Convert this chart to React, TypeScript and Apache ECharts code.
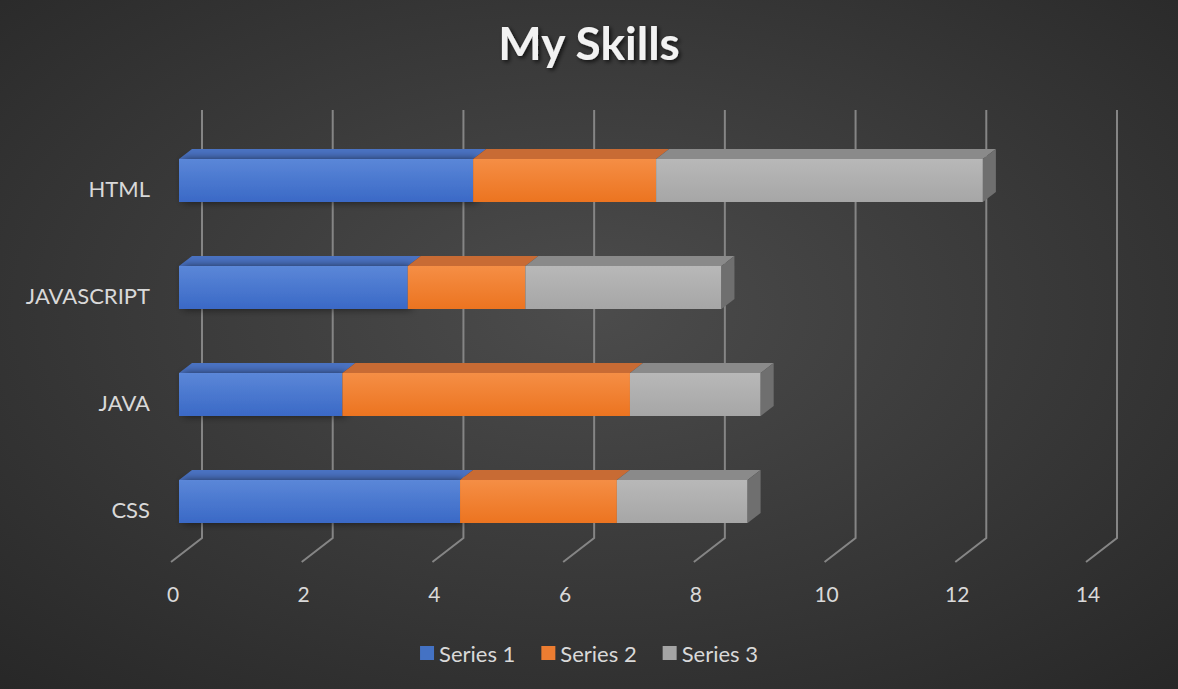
import React, { useEffect, useRef } from "react";
import * as echarts from "echarts";

const categories = ["CSS", "JAVA", "JAVASCRIPT", "HTML"];
const series1 = [4.3, 2.5, 3.5, 4.5];
const series2 = [2.4, 4.4, 1.8, 2.8];
const series3 = [2.0, 2.0, 3.0, 5.0];
const seriesNames = ["Series 1", "Series 2", "Series 3"];
const xTicks = [0, 2, 4, 6, 8, 10, 12, 14];

const FONT = "Lato, 'Open Sans', sans-serif";

const palette = [
  { front0: "#5b87d8", front1: "#3a69c6", top: "#4a72c2", side: "#33559a", legend: "#4472c4" },
  { front0: "#f58e45", front1: "#ec7420", top: "#c86b34", side: "#b55a1a", legend: "#ed7d31" },
  { front0: "#b8b8b8", front1: "#a6a6a6", top: "#8a8a8a", side: "#6f6f6f", legend: "#a5a5a5" },
];

export default function App() {
  const ref = useRef<HTMLDivElement>(null);
  useEffect(() => {
    document.body.style.margin = "0";
    const chart = echarts.init(ref.current!, null, { renderer: "svg" });
    const all = [series1, series2, series3];
    const DX = 13;
    const DY = -10;
    const OFF = 6;
    const BAR_H = 43;

    const barSeries = all.map((vals, si) => {
      const data = vals.map((v, ci) => {
        let start = 0;
        for (let k = 0; k < si; k++) start += all[k][ci];
        return [start, start + v, ci];
      });
      const col = palette[si];
      return {
        type: "custom",
        name: seriesNames[si],
        z: 3,
        itemStyle: { color: col.legend },
        encode: { x: [0, 1], y: 2 },
        data,
        renderItem: (params: any, api: any) => {
          const s = api.value(0);
          const e = api.value(1);
          const c = api.value(2);
          const p0 = api.coord([s, c]);
          const p1 = api.coord([e, c]);
          const yc = p0[1] - 8;
          const x0 = p0[0] + OFF;
          const x1 = p1[0] + OFF;
          const y0 = yc - BAR_H / 2;
          const y1 = yc + BAR_H / 2;
          const children: any[] = [
            {
              type: "polygon",
              shape: {
                points: [
                  [x0, y0],
                  [x0 + DX, y0 + DY],
                  [x1 + DX, y0 + DY],
                  [x1, y0],
                ],
              },
              style: { fill: col.top },
            },
            {
              type: "rect",
              shape: { x: x0, y: y0, width: x1 - x0, height: BAR_H },
              style: {
                fill: new echarts.graphic.LinearGradient(0, 0, 0, 1, [
                  { offset: 0, color: col.front0 },
                  { offset: 1, color: col.front1 },
                ]),
                shadowColor: si === 0 ? "rgba(0,0,0,0.6)" : "transparent",
                shadowBlur: si === 0 ? 8 : 0,
                shadowOffsetX: si === 0 ? 4 : 0,
              },
            },
          ];
          if (si === all.length - 1) {
            children.push({
              type: "polygon",
              shape: {
                points: [
                  [x1, y0],
                  [x1 + DX, y0 + DY],
                  [x1 + DX, y1 + DY],
                  [x1, y1],
                ],
              },
              style: { fill: col.side },
            });
          }
          return { type: "group", children };
        },
      };
    });

    const gridSeries = {
      type: "custom",
      name: "grid",
      z: 1,
      silent: true,
      encode: { x: 0, y: 1 },
      data: xTicks.map((v) => [v, 0]),
      renderItem: (params: any, api: any) => {
        const cs = params.coordSys;
        const x = api.coord([api.value(0), 0])[0];
        const floor = cs.y + cs.height - 1;
        return {
          type: "polyline",
          shape: {
            points: [
              [x - 2, floor],
              [x + 29, floor - 24],
              [x + 29, cs.y - 25],
            ],
          },
          style: { stroke: "#858585", lineWidth: 2, fill: "none" },
        };
      },
    };

    chart.setOption({
      animation: false,
      backgroundColor: new echarts.graphic.RadialGradient(0.5, 0.45, 0.75, [
        { offset: 0, color: "#4c4c4c" },
        { offset: 1, color: "#272727" },
      ]),
      title: {
        text: "My Skills",
        left: "center",
        top: 14,
        textStyle: {
          color: "#f2f2f2",
          fontFamily: FONT,
          fontWeight: "bold",
          fontSize: 46,
          textShadowColor: "rgba(0,0,0,0.7)",
          textShadowBlur: 4,
          textShadowOffsetX: 2,
          textShadowOffsetY: 2,
        },
      },
      legend: {
        data: seriesNames,
        bottom: 20,
        left: "center",
        icon: "rect",
        itemWidth: 14,
        itemHeight: 14,
        itemGap: 26,
        textStyle: { color: "#d9d9d9", fontSize: 22, fontFamily: FONT },
      },
      grid: { left: 173, right: 90, top: 135, height: 428 },
      xAxis: {
        type: "value",
        min: 0,
        max: 14,
        interval: 2,
        axisLine: { show: false },
        axisTick: { show: false },
        splitLine: { show: false },
        axisLabel: { color: "#d9d9d9", fontSize: 21, fontFamily: FONT, margin: 20 },
      },
      yAxis: {
        type: "category",
        data: categories,
        axisLine: { show: false },
        axisTick: { show: false },
        axisLabel: { color: "#d9d9d9", fontSize: 22, fontFamily: FONT, margin: 23 },
      },
      series: [gridSeries, ...barSeries],
    });
    return () => chart.dispose();
  }, []);
  return <div ref={ref} style={{ width: 1178, height: 689 }} />;
}
